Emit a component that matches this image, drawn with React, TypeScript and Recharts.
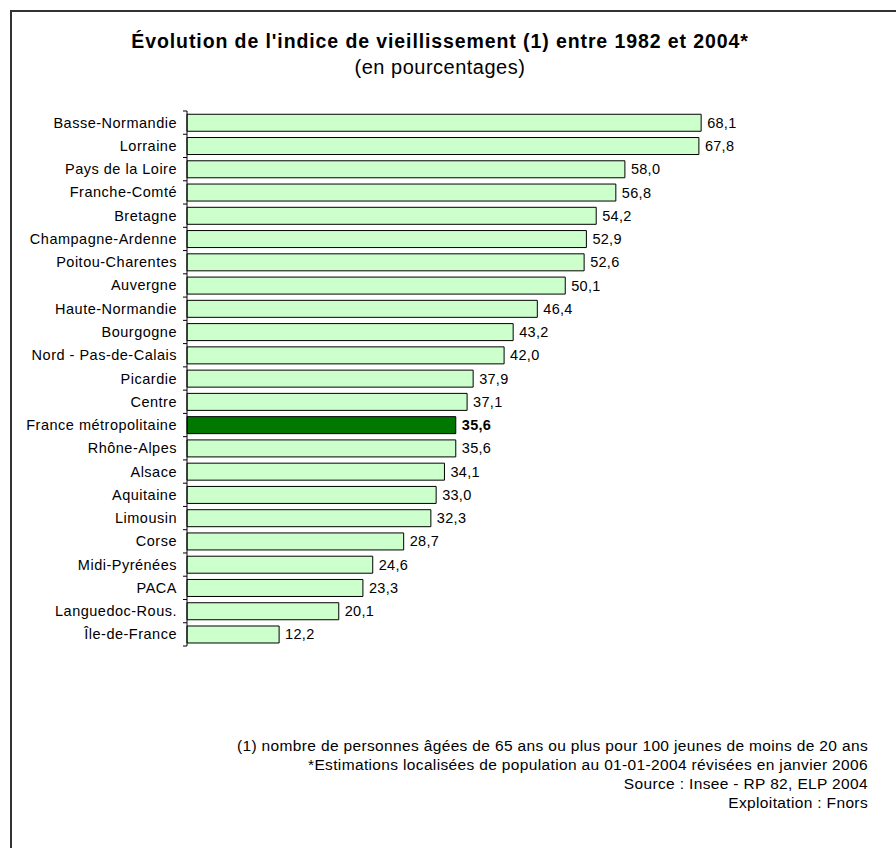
import { BarChart, Bar, XAxis, YAxis, Cell, LabelList } from 'recharts'

const regions = [
    'Basse-Normandie', 'Lorraine', 'Pays de la Loire', 'Franche-Comté', 'Bretagne',
    'Champagne-Ardenne', 'Poitou-Charentes', 'Auvergne', 'Haute-Normandie', 'Bourgogne',
    'Nord - Pas-de-Calais', 'Picardie', 'Centre', 'France métropolitaine', 'Rhône-Alpes',
    'Alsace', 'Aquitaine', 'Limousin', 'Corse', 'Midi-Pyrénées', 'PACA',
    'Languedoc-Rous.', 'Île-de-France',
]
const values = [
    68.1, 67.8, 58.0, 56.8, 54.2, 52.9, 52.6, 50.1, 46.4, 43.2, 42.0, 37.9, 37.1,
    35.6, 35.6, 34.1, 33.0, 32.3, 28.7, 24.6, 23.3, 20.1, 12.2,
]
const highlight = 'France métropolitaine'

const footnotes = [
    '(1) nombre de personnes âgées de 65 ans ou plus pour 100 jeunes de moins de 20 ans',
    '*Estimations localisées de population au 01-01-2004 révisées en janvier 2006',
    'Source : Insee - RP 82, ELP 2004',
    'Exploitation : Fnors',
]

const data = regions.map((name, i) => ({ name, value: values[i] }))

const FONT = '"Liberation Sans", Arial, sans-serif'
const TOP = 111
const BOTTOM_Y = 646
const AXIS_X = 187
const band = (BOTTOM_Y - TOP) / regions.length

const fmt = (v: number) => v.toFixed(1).replace('.', ',')

// ticks sit on the category boundaries, not the centres
const RegionTick = (props: any) => {
    const { y, payload, index } = props
    return (
        <g>
            <line x1={AXIS_X - 4} x2={AXIS_X} y1={y - band / 2} y2={y - band / 2} stroke="#000" />
            {index === regions.length - 1 && (
                <line x1={AXIS_X - 4} x2={AXIS_X} y1={y + band / 2} y2={y + band / 2} stroke="#000" />
            )}
            <text x={AXIS_X - 10} y={y} dy={5} textAnchor="end" fontSize={14.5} letterSpacing={0.5} fill="#000" fontFamily={FONT}>
                {payload.value}
            </text>
        </g>
    )
}

const ValueLabel = (props: any) => {
    const { x, y, width, height, value, index } = props
    const bold = regions[index] === highlight
    return (
        <text
            x={x + width + 6}
            y={y + height / 2}
            dy={5}
            fontSize={14.5}
            letterSpacing={0.3}
            fontWeight={bold ? 'bold' : 'normal'}
            fill="#000"
            fontFamily={FONT}
        >
            {fmt(value)}
        </text>
    )
}

export default function App() {
    return (
        <div style={{ position: 'absolute', left: 0, top: 0, width: 896, height: 848, background: '#fff', fontFamily: FONT, overflow: 'hidden' }}>
            <div style={{ position: 'absolute', left: 10, top: 10, width: 900, height: 850, borderTop: '2px solid #333', borderLeft: '2px solid #333' }} />
            <div style={{ position: 'absolute', left: 0, top: 30, width: 880, textAlign: 'center', fontSize: 19.5, letterSpacing: 0.9, fontWeight: 'bold', lineHeight: '22px' }}>
                Évolution de l'indice de vieillissement (1) entre 1982 et 2004*
            </div>
            <div style={{ position: 'absolute', left: 0, top: 56, width: 880, textAlign: 'center', fontSize: 20, letterSpacing: 0.5, lineHeight: '22px' }}>
                (en pourcentages)
            </div>
            <div style={{ position: 'absolute', left: 0, top: 0 }}>
                <BarChart
                    width={896}
                    height={848}
                    data={data}
                    layout="vertical"
                    margin={{ top: TOP, bottom: 848 - BOTTOM_Y, left: 0, right: 105 }}
                    barCategoryGap="14%"
                >
                    <XAxis type="number" domain={[0, 80]} hide />
                    <YAxis
                        type="category"
                        dataKey="name"
                        width={AXIS_X}
                        axisLine={{ stroke: '#000' }}
                        tickLine={false}
                        tick={<RegionTick />}
                        interval={0}
                    />
                    <Bar dataKey="value" stroke="#000" strokeWidth={1} isAnimationActive={false}>
                        {data.map((d, i) => (
                            <Cell key={`cell-${i}`} fill={d.name === highlight ? '#007800' : '#ccffcc'} />
                        ))}
                        <LabelList dataKey="value" content={<ValueLabel />} />
                    </Bar>
                </BarChart>
            </div>
            <div style={{ position: 'absolute', right: 28, top: 736, textAlign: 'right', fontSize: 15.5, letterSpacing: 0.35, lineHeight: '19px', whiteSpace: 'nowrap' }}>
                {footnotes.map((t) => (
                    <div key={t}>{t}</div>
                ))}
            </div>
        </div>
    )
}
